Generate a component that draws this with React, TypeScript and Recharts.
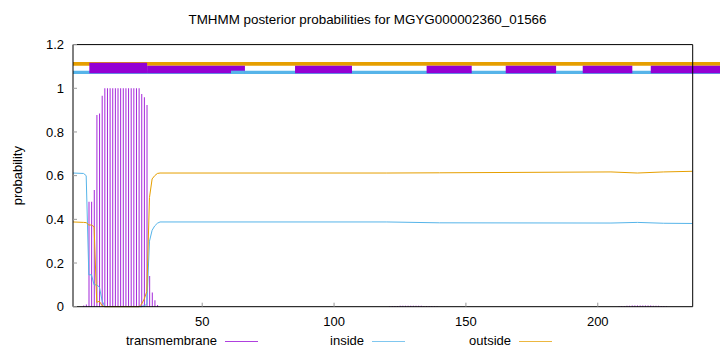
import React from 'react';
import { ComposedChart, Bar, Line, XAxis, YAxis, ReferenceArea } from 'recharts';

const TITLE = 'TMHMM posterior probabilities for MGYG000002360_01566';
const FONT = '"Liberation Sans", Arial, sans-serif';

const PURPLE = '#9400D3';
const BLUE = '#56B4E9';
const ORANGE = '#E69F00';

const X_TICKS = [50, 100, 150, 200];
const Y_TICKS = [0, 0.2, 0.4, 0.6, 0.8, 1, 1.2];

// transmembrane posterior (impulses), residues not listed are 0
const tmPos = [
  5, 6, 7, 8, 9, 10, 11, 12, 13, 14, 15, 16, 17, 18, 19, 20, 21, 22, 23, 24, 25, 26, 27, 28, 29, 30, 31, 32, 33,
  121, 122, 123, 124, 125, 126, 127, 128, 129, 130, 131, 132, 133, 134, 135, 136, 137, 138, 139,
  208, 209, 210, 211, 212, 213, 214, 215, 216, 217, 218, 219, 220, 221, 222, 223, 224, 225, 226,
];
const tmVal = [
  0.005, 0.01, 0.48, 0.48, 0.534, 0.878, 0.885, 0.966, 1, 1, 1, 1, 1, 1, 1, 1, 1, 1, 1, 1, 1, 1, 0.974, 0.959, 0.924,
  0.14, 0.065, 0.03, 0.008,
  0.002, 0.003, 0.003, 0.003, 0.004, 0.004, 0.004, 0.004, 0.004, 0.004, 0.004, 0.004, 0.004, 0.003, 0.003, 0.003, 0.003,
  0.002, 0.002,
  0.002, 0.003, 0.003, 0.004, 0.004, 0.005, 0.005, 0.005, 0.005, 0.005, 0.005, 0.005, 0.005, 0.004, 0.004, 0.004, 0.003,
  0.003, 0.002,
];

// inside / outside posterior, read at the points where the curves bend
const inPos = [1, 5, 6, 7, 8, 9, 10, 11, 12, 13, 26, 27, 28, 29, 30, 31, 32, 33, 34, 120, 140, 205, 215, 225, 236];
const inVal = [
  0.612, 0.61, 0.6, 0.146, 0.146, 0.1, 0.1, 0.09, 0.03, 0, 0, 0, 0.005, 0.01, 0.3, 0.35, 0.37, 0.382, 0.388, 0.388,
  0.384, 0.383, 0.386, 0.382, 0.381,
];
const outPos = [1, 5, 6, 7, 8, 9, 10, 11, 12, 13, 26, 27, 28, 29, 30, 31, 32, 33, 34, 120, 140, 205, 215, 225, 236];
const outVal = [
  0.388, 0.386, 0.385, 0.374, 0.374, 0.366, 0.02, 0.025, 0.005, 0, 0, 0.012, 0.035, 0.07, 0.5, 0.585, 0.6, 0.61, 0.612,
  0.612, 0.613, 0.617, 0.612, 0.617, 0.62,
];

// topology strips along the top, residue ranges
const outsideStrip = [[1, 246.4]];
const insideStrip = [[1, 246.4]];
const tmStrip = [
  [7.2, 29.1],
  [29.1, 66.2],
  [85.2, 106.8],
  [135.1, 152.2],
  [165.1, 184.2],
  [194.3, 213.1],
  [220.1, 246.4],
];
const insideOverTm = [[60.9, 66.2]];

const OUT_Y = [1.1035, 1.1204];
const IN_Y = [1.0655, 1.0806];
const TM_Y = [1.0687, 1.1035];
const TM_FIRST_TOP = 1.117;

type Row = { x: number; tm?: number; inside?: number; outside?: number };

const buildRows = (): Row[] => {
  const map = new Map<number, Row>();
  const get = (x: number) => {
    if (!map.has(x)) map.set(x, { x });
    return map.get(x)!;
  };
  tmPos.forEach((p, i) => (get(p).tm = tmVal[i]));
  inPos.forEach((p, i) => (get(p).inside = inVal[i]));
  outPos.forEach((p, i) => (get(p).outside = outVal[i]));
  return Array.from(map.values()).sort((a, b) => a.x - b.x);
};

const rows = buildRows();

const LEGEND = [
  { name: 'transmembrane', color: PURPLE },
  { name: 'inside', color: BLUE },
  { name: 'outside', color: ORANGE },
];

const tickStyle = { fontSize: 13, fill: '#000', fontFamily: FONT };

const App = () => {
  return (
    <div style={{ position: 'absolute', left: 0, top: 0, width: 720, height: 352, fontFamily: FONT, background: '#fff' }}>
      <div
        style={{
          position: 'absolute',
          top: 12,
          left: 367.5,
          transform: 'translateX(-50%)',
          whiteSpace: 'nowrap',
          fontSize: 13.4,
          lineHeight: '16px',
        }}
      >
        {TITLE}
      </div>
      <ComposedChart
        width={720}
        height={352}
        data={rows}
        margin={{ top: 43.6, right: 26.3, bottom: 15.3, left: 0 }}
      >
        <XAxis
          dataKey="x"
          type="number"
          domain={[1, 236]}
          ticks={X_TICKS}
          height={30}
          tickSize={-4}
          tickMargin={14}
          tick={tickStyle}
          tickLine={{ stroke: '#999' }}
          axisLine={{ stroke: '#000' }}
          allowDataOverflow
        />
        <XAxis
          xAxisId="top"
          orientation="top"
          dataKey="x"
          type="number"
          domain={[1, 236]}
          ticks={X_TICKS}
          height={1}
          tickSize={-4}
          tick={false}
          tickLine={{ stroke: '#999' }}
          axisLine={{ stroke: '#000' }}
          allowDataOverflow
        />
        <YAxis
          type="number"
          domain={[0, 1.2]}
          ticks={Y_TICKS}
          width={73}
          tickSize={-4}
          tickMargin={13}
          tick={tickStyle}
          tickLine={{ stroke: '#999' }}
          axisLine={{ stroke: '#000' }}
          label={{ value: 'probability', angle: -90, position: 'center', dx: -19.5, style: tickStyle }}
        />
        <YAxis
          yAxisId="right"
          orientation="right"
          type="number"
          domain={[0, 1.2]}
          ticks={Y_TICKS}
          width={1}
          tickSize={-4}
          tick={false}
          tickLine={{ stroke: '#999' }}
          axisLine={{ stroke: '#000' }}
        />

        {outsideStrip.map(([a, b], i) => (
          <ReferenceArea key={`o${i}`} x1={a} x2={b} y1={OUT_Y[0]} y2={OUT_Y[1]} fill={ORANGE} fillOpacity={1} stroke="none" ifOverflow="visible" />
        ))}
        {insideStrip.map(([a, b], i) => (
          <ReferenceArea key={`i${i}`} x1={a} x2={b} y1={IN_Y[0]} y2={IN_Y[1]} fill={BLUE} fillOpacity={1} stroke="none" ifOverflow="visible" />
        ))}
        {tmStrip.map(([a, b], i) => (
          <ReferenceArea
            key={`t${i}`}
            x1={a}
            x2={b}
            y1={TM_Y[0]}
            y2={i === 0 ? TM_FIRST_TOP : TM_Y[1]}
            fill={PURPLE}
            fillOpacity={1}
            stroke="none"
            ifOverflow="visible"
          />
        ))}
        {insideOverTm.map(([a, b], i) => (
          <ReferenceArea key={`io${i}`} x1={a} x2={b} y1={IN_Y[0]} y2={IN_Y[1]} fill={BLUE} fillOpacity={1} stroke="none" ifOverflow="visible" />
        ))}

        <Bar dataKey="tm" fill={PURPLE} fillOpacity={0.85} barSize={1} isAnimationActive={false} />
        <Line
          dataKey="inside"
          type="linear"
          stroke={BLUE}
          strokeWidth={1}
          dot={false}
          activeDot={false}
          connectNulls
          isAnimationActive={false}
        />
        <Line
          dataKey="outside"
          type="linear"
          stroke={ORANGE}
          strokeWidth={1}
          dot={false}
          activeDot={false}
          connectNulls
          isAnimationActive={false}
        />
      </ComposedChart>
      <div style={{ position: 'absolute', left: 0, top: 333, width: 720, height: 16, fontSize: 13, lineHeight: '16px' }}>
        {LEGEND.map((item, i) => (
          <React.Fragment key={item.name}>
            <span style={{ position: 'absolute', right: 720 - (217 + i * 147), whiteSpace: 'nowrap' }}>{item.name}</span>
            <span
              style={{
                position: 'absolute',
                left: 225 + i * 147,
                top: 8,
                width: 33,
                height: 1,
                background: item.color,
                opacity: 0.75,
              }}
            />
          </React.Fragment>
        ))}
      </div>
    </div>
  );
};

export default App;
